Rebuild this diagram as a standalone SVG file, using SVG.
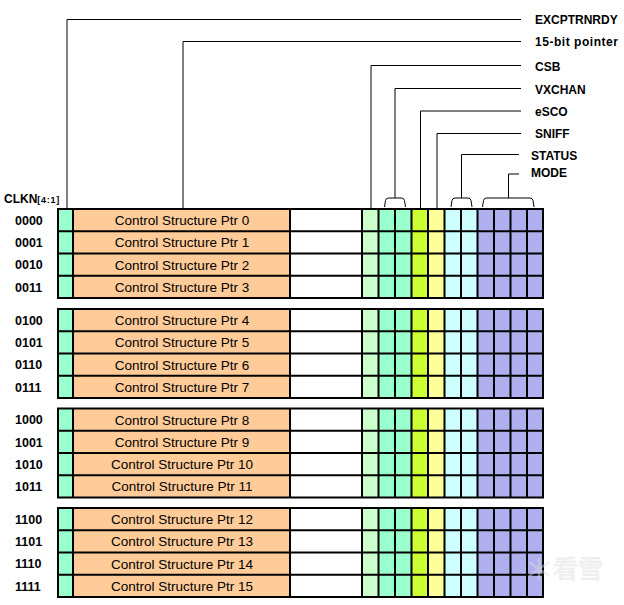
<svg xmlns="http://www.w3.org/2000/svg" xmlns:xlink="http://www.w3.org/1999/xlink" width="624" height="605" viewBox="0 0 624 605">
<style>
.lbl{font-family:"Liberation Sans",Arial,sans-serif;font-weight:bold;font-size:12px;fill:#000}
.row{font-family:"Liberation Sans",Arial,sans-serif;font-weight:bold;font-size:12.5px;fill:#000}
.cell{font-family:"Liberation Sans",Arial,sans-serif;font-size:13.5px;fill:#000;text-anchor:middle}
.con{fill:none;stroke:#000;stroke-width:1}
.grid{fill:none;stroke:#000;stroke-width:2}
</style>
<defs>
<g id="blk">
<rect x="58" y="0" width="15" height="89" fill="#99FFCC"/>
<rect x="73" y="0" width="217" height="89" fill="#FFCC99"/>
<rect x="290" y="0" width="72" height="89" fill="#FFFFFF"/>
<rect x="362" y="0" width="16.5" height="89" fill="#CCFFCC"/>
<rect x="378.5" y="0" width="33" height="89" fill="#99FFCC"/>
<rect x="411.5" y="0" width="16.5" height="89" fill="#CCFF33"/>
<rect x="428" y="0" width="16.5" height="89" fill="#FFFF99"/>
<rect x="444.5" y="0" width="33" height="89" fill="#CCFFFF"/>
<rect x="477.5" y="0" width="65.5" height="89" fill="#AFAFED"/>
<path class="grid" d="M58 22.25H543M58 44.5H543M58 66.75H543M73 0V89M290 0V89M362 0V89M378.5 0V89M395 0V89M411.5 0V89M428 0V89M444.5 0V89M461 0V89M477.5 0V89M494 0V89M510.5 0V89M527 0V89"/>
<rect class="grid" x="58" y="0" width="485" height="89"/>
</g>
</defs>
<rect width="624" height="605" fill="#FFFFFF"/>

<g id="connectors">
<path class="con" d="M67 209V19.5H521"/>
<path class="con" d="M183 209V41.5H521"/>
<path class="con" d="M371 209V65.5H521"/>
<path class="con" d="M395 198V88.5H521"/>
<path class="con" d="M420.5 209V111H521"/>
<path class="con" d="M437 209V133.5H521"/>
<path class="con" d="M461.5 198V154.5H519"/>
<path class="con" d="M508.5 198V174H519"/>
<path class="con" d="M384.5 207L385.5 200.5Q386 198 388.5 198H401.5Q404 198 404.5 200.5L405.5 207"/>
<path class="con" d="M451 207L452 200.5Q452.5 198 455 198H468Q470.5 198 471 200.5L472 207"/>
<path class="con" d="M482.5 207L483.5 200.5Q484 198 486.5 198H530Q532.5 198 533 200.5L534 207"/>
</g>

<g id="field-labels">
<text class="lbl" x="535" y="24">EXCPTRNRDY</text>
<text class="lbl" x="535" y="46" textLength="83">15-bit pointer</text>
<text class="lbl" x="535" y="70.5">CSB</text>
<text class="lbl" x="535" y="94">VXCHAN</text>
<text class="lbl" x="535" y="115.5">eSCO</text>
<text class="lbl" x="535" y="138">SNIFF</text>
<text class="lbl" x="531" y="160">STATUS</text>
<text class="lbl" x="531" y="176.5">MODE</text>
<text class="lbl" x="4" y="203" font-size="11.5">CLKN<tspan font-size="9" textLength="22">[4:1]</tspan></text>
</g>

<g id="block0">
<use xlink:href="#blk" href="#blk" y="209"/>
<text class="row" x="15" y="224.8">0000</text>
<text class="row" x="15" y="247">0001</text>
<text class="row" x="15" y="269.3">0010</text>
<text class="row" x="15" y="291.5">0011</text>
<text class="cell" x="182" y="225">Control Structure Ptr 0</text>
<text class="cell" x="182" y="247.2">Control Structure Ptr 1</text>
<text class="cell" x="182" y="269.5">Control Structure Ptr 2</text>
<text class="cell" x="182" y="291.7">Control Structure Ptr 3</text>
</g>

<g id="block1">
<use xlink:href="#blk" href="#blk" y="309"/>
<text class="row" x="15" y="324.8">0100</text>
<text class="row" x="15" y="347">0101</text>
<text class="row" x="15" y="369.3">0110</text>
<text class="row" x="15" y="391.5">0111</text>
<text class="cell" x="182" y="325">Control Structure Ptr 4</text>
<text class="cell" x="182" y="347.2">Control Structure Ptr 5</text>
<text class="cell" x="182" y="369.5">Control Structure Ptr 6</text>
<text class="cell" x="182" y="391.7">Control Structure Ptr 7</text>
</g>

<g id="block2">
<use xlink:href="#blk" href="#blk" y="408.5"/>
<text class="row" x="15" y="424.3">1000</text>
<text class="row" x="15" y="446.5">1001</text>
<text class="row" x="15" y="468.8">1010</text>
<text class="row" x="15" y="491">1011</text>
<text class="cell" x="182" y="424.5">Control Structure Ptr 8</text>
<text class="cell" x="182" y="446.7">Control Structure Ptr 9</text>
<text class="cell" x="182" y="469">Control Structure Ptr 10</text>
<text class="cell" x="182" y="491.2">Control Structure Ptr 11</text>
</g>

<g id="block3">
<use xlink:href="#blk" href="#blk" y="508"/>
<text class="row" x="15" y="523.8">1100</text>
<text class="row" x="15" y="546">1101</text>
<text class="row" x="15" y="568.3">1110</text>
<text class="row" x="15" y="590.5">1111</text>
<text class="cell" x="182" y="524">Control Structure Ptr 12</text>
<text class="cell" x="182" y="546.2">Control Structure Ptr 13</text>
<text class="cell" x="182" y="568.5">Control Structure Ptr 14</text>
<text class="cell" x="182" y="590.7">Control Structure Ptr 15</text>
</g>

<g id="watermark" opacity="0.45">
<path d="M539 558V580M529 562L549 576M549 562L529 576" stroke="#dddddd" stroke-width="2.5" fill="none"/>
<text x="553" y="578" font-family="'Noto Sans CJK SC',sans-serif" font-size="25" fill="#e6e6e6" stroke="#cccccc" stroke-width="0.5">看雪</text>
</g>
</svg>
